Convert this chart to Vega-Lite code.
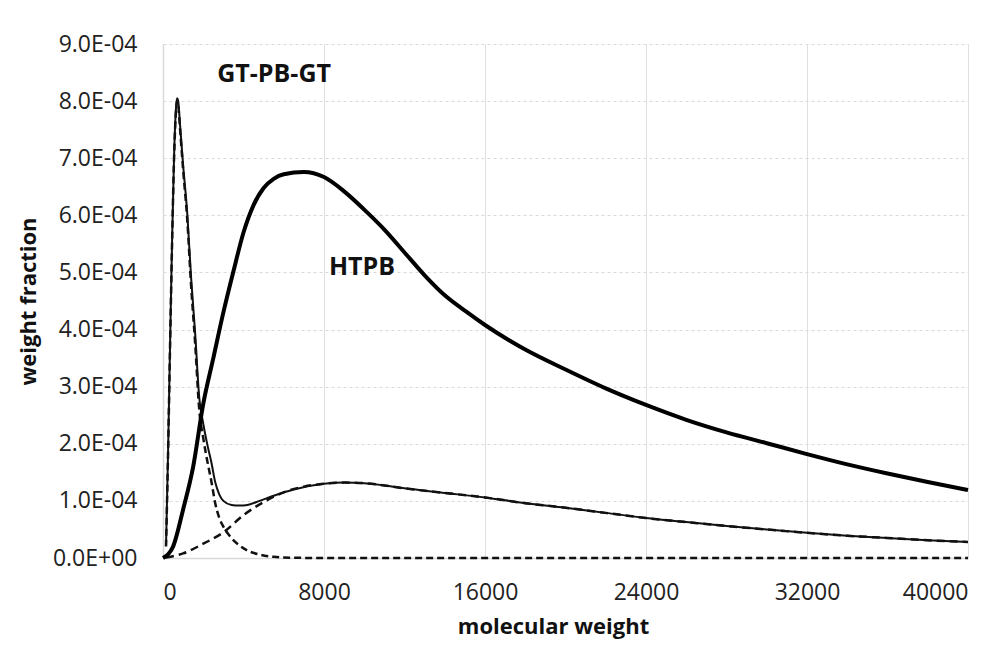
{
  "$schema": "https://vega.github.io/schema/vega-lite/v6.json",
  "autosize": "none",
  "padding": {"left": 163, "top": 44, "right": 37, "bottom": 102},
  "width": 805,
  "height": 514,
  "background": "white",
  "config": {"view": {"stroke": null}, "font": "Open Sans"},
  "datasets": {
    "curves": [
      {"mw": 0, "wf": 0, "series": "HTPB"},
      {"mw": 500, "wf": 0.00002, "series": "HTPB"},
      {"mw": 1000, "wf": 0.000085, "series": "HTPB"},
      {"mw": 1500, "wf": 0.00016, "series": "HTPB"},
      {"mw": 2000, "wf": 0.00027, "series": "HTPB"},
      {"mw": 2500, "wf": 0.00035, "series": "HTPB"},
      {"mw": 3000, "wf": 0.00043, "series": "HTPB"},
      {"mw": 3500, "wf": 0.000502, "series": "HTPB"},
      {"mw": 4000, "wf": 0.00057, "series": "HTPB"},
      {"mw": 4500, "wf": 0.000618, "series": "HTPB"},
      {"mw": 5000, "wf": 0.000648, "series": "HTPB"},
      {"mw": 5500, "wf": 0.000664, "series": "HTPB"},
      {"mw": 6000, "wf": 0.000672, "series": "HTPB"},
      {"mw": 7000, "wf": 0.000676, "series": "HTPB"},
      {"mw": 8000, "wf": 0.000667, "series": "HTPB"},
      {"mw": 9000, "wf": 0.000642, "series": "HTPB"},
      {"mw": 10000, "wf": 0.00061, "series": "HTPB"},
      {"mw": 11000, "wf": 0.000575, "series": "HTPB"},
      {"mw": 12000, "wf": 0.000535, "series": "HTPB"},
      {"mw": 13000, "wf": 0.000495, "series": "HTPB"},
      {"mw": 14000, "wf": 0.00046, "series": "HTPB"},
      {"mw": 15000, "wf": 0.000433, "series": "HTPB"},
      {"mw": 16000, "wf": 0.000408, "series": "HTPB"},
      {"mw": 18000, "wf": 0.000365, "series": "HTPB"},
      {"mw": 20000, "wf": 0.00033, "series": "HTPB"},
      {"mw": 22000, "wf": 0.000297, "series": "HTPB"},
      {"mw": 24000, "wf": 0.000268, "series": "HTPB"},
      {"mw": 26000, "wf": 0.000242, "series": "HTPB"},
      {"mw": 28000, "wf": 0.00022, "series": "HTPB"},
      {"mw": 30000, "wf": 0.000201, "series": "HTPB"},
      {"mw": 32000, "wf": 0.000182, "series": "HTPB"},
      {"mw": 34000, "wf": 0.000164, "series": "HTPB"},
      {"mw": 36000, "wf": 0.000148, "series": "HTPB"},
      {"mw": 38000, "wf": 0.000133, "series": "HTPB"},
      {"mw": 40000, "wf": 0.000119, "series": "HTPB"},

      {"mw": 150, "wf": 0.00002, "series": "comp1"},
      {"mw": 250, "wf": 0.00018, "series": "comp1"},
      {"mw": 350, "wf": 0.00037, "series": "comp1"},
      {"mw": 450, "wf": 0.00055, "series": "comp1"},
      {"mw": 550, "wf": 0.0007, "series": "comp1"},
      {"mw": 650, "wf": 0.000785, "series": "comp1"},
      {"mw": 700, "wf": 0.0008, "series": "comp1"},
      {"mw": 750, "wf": 0.000795, "series": "comp1"},
      {"mw": 850, "wf": 0.00075, "series": "comp1"},
      {"mw": 1000, "wf": 0.00068, "series": "comp1"},
      {"mw": 1200, "wf": 0.000595, "series": "comp1"},
      {"mw": 1400, "wf": 0.000475, "series": "comp1"},
      {"mw": 1600, "wf": 0.000375, "series": "comp1"},
      {"mw": 1800, "wf": 0.00026, "series": "comp1"},
      {"mw": 2000, "wf": 0.00021, "series": "comp1"},
      {"mw": 2200, "wf": 0.00017, "series": "comp1"},
      {"mw": 2400, "wf": 0.000135, "series": "comp1"},
      {"mw": 2600, "wf": 0.000095, "series": "comp1"},
      {"mw": 2800, "wf": 0.00007, "series": "comp1"},
      {"mw": 3000, "wf": 0.000055, "series": "comp1"},
      {"mw": 3400, "wf": 0.000035, "series": "comp1"},
      {"mw": 3800, "wf": 0.000022, "series": "comp1"},
      {"mw": 4200, "wf": 0.000013, "series": "comp1"},
      {"mw": 4800, "wf": 0.000006, "series": "comp1"},
      {"mw": 5500, "wf": 0.000002, "series": "comp1"},
      {"mw": 6500, "wf": 0.0000005, "series": "comp1"},
      {"mw": 8000, "wf": 0, "series": "comp1"},
      {"mw": 40000, "wf": 0, "series": "comp1"},

      {"mw": 150, "wf": 0.000001, "series": "comp2"},
      {"mw": 1000, "wf": 0.000008, "series": "comp2"},
      {"mw": 2000, "wf": 0.000025, "series": "comp2"},
      {"mw": 3000, "wf": 0.000045, "series": "comp2"},
      {"mw": 4000, "wf": 0.000075, "series": "comp2"},
      {"mw": 5000, "wf": 0.000098, "series": "comp2"},
      {"mw": 6000, "wf": 0.000115, "series": "comp2"},
      {"mw": 7000, "wf": 0.000125, "series": "comp2"},
      {"mw": 8000, "wf": 0.00013, "series": "comp2"},
      {"mw": 9000, "wf": 0.000132, "series": "comp2"},
      {"mw": 10000, "wf": 0.000131, "series": "comp2"},
      {"mw": 11000, "wf": 0.000127, "series": "comp2"},
      {"mw": 12000, "wf": 0.000122, "series": "comp2"},
      {"mw": 14000, "wf": 0.000114, "series": "comp2"},
      {"mw": 16000, "wf": 0.000106, "series": "comp2"},
      {"mw": 18000, "wf": 0.000096, "series": "comp2"},
      {"mw": 20000, "wf": 0.000088, "series": "comp2"},
      {"mw": 22000, "wf": 0.000079, "series": "comp2"},
      {"mw": 24000, "wf": 0.00007, "series": "comp2"},
      {"mw": 26000, "wf": 0.000063, "series": "comp2"},
      {"mw": 28000, "wf": 0.000056, "series": "comp2"},
      {"mw": 30000, "wf": 0.00005, "series": "comp2"},
      {"mw": 32000, "wf": 0.000044, "series": "comp2"},
      {"mw": 34000, "wf": 0.000039, "series": "comp2"},
      {"mw": 36000, "wf": 0.000035, "series": "comp2"},
      {"mw": 38000, "wf": 0.000031, "series": "comp2"},
      {"mw": 40000, "wf": 0.000028, "series": "comp2"},

      {"mw": 150, "wf": 0.000021, "series": "sum"},
      {"mw": 250, "wf": 0.000182, "series": "sum"},
      {"mw": 350, "wf": 0.000372, "series": "sum"},
      {"mw": 450, "wf": 0.000553, "series": "sum"},
      {"mw": 550, "wf": 0.000704, "series": "sum"},
      {"mw": 650, "wf": 0.00079, "series": "sum"},
      {"mw": 700, "wf": 0.000805, "series": "sum"},
      {"mw": 750, "wf": 0.000801, "series": "sum"},
      {"mw": 850, "wf": 0.000757, "series": "sum"},
      {"mw": 1000, "wf": 0.000688, "series": "sum"},
      {"mw": 1200, "wf": 0.000606, "series": "sum"},
      {"mw": 1400, "wf": 0.000489, "series": "sum"},
      {"mw": 1600, "wf": 0.000392, "series": "sum"},
      {"mw": 1800, "wf": 0.000281, "series": "sum"},
      {"mw": 2000, "wf": 0.000235, "series": "sum"},
      {"mw": 2200, "wf": 0.000199, "series": "sum"},
      {"mw": 2400, "wf": 0.000168, "series": "sum"},
      {"mw": 2600, "wf": 0.000132, "series": "sum"},
      {"mw": 2800, "wf": 0.000111, "series": "sum"},
      {"mw": 3000, "wf": 0.0001, "series": "sum"},
      {"mw": 3400, "wf": 0.000093, "series": "sum"},
      {"mw": 3800, "wf": 0.000092, "series": "sum"},
      {"mw": 4200, "wf": 0.000093, "series": "sum"},
      {"mw": 4800, "wf": 0.0001, "series": "sum"},
      {"mw": 5500, "wf": 0.000109, "series": "sum"},
      {"mw": 6500, "wf": 0.00012, "series": "sum"},
      {"mw": 8000, "wf": 0.00013, "series": "sum"},
      {"mw": 9000, "wf": 0.000132, "series": "sum"},
      {"mw": 10000, "wf": 0.000131, "series": "sum"},
      {"mw": 11000, "wf": 0.000127, "series": "sum"},
      {"mw": 12000, "wf": 0.000122, "series": "sum"},
      {"mw": 14000, "wf": 0.000114, "series": "sum"},
      {"mw": 16000, "wf": 0.000106, "series": "sum"},
      {"mw": 18000, "wf": 0.000096, "series": "sum"},
      {"mw": 20000, "wf": 0.000088, "series": "sum"},
      {"mw": 22000, "wf": 0.000079, "series": "sum"},
      {"mw": 24000, "wf": 0.00007, "series": "sum"},
      {"mw": 26000, "wf": 0.000063, "series": "sum"},
      {"mw": 28000, "wf": 0.000056, "series": "sum"},
      {"mw": 30000, "wf": 0.00005, "series": "sum"},
      {"mw": 32000, "wf": 0.000044, "series": "sum"},
      {"mw": 34000, "wf": 0.000039, "series": "sum"},
      {"mw": 36000, "wf": 0.000035, "series": "sum"},
      {"mw": 38000, "wf": 0.000031, "series": "sum"},
      {"mw": 40000, "wf": 0.000028, "series": "sum"}
    ],
    "labels": [
      {"mw": 5520, "wf": 0.000848, "label": "GT-PB-GT"},
      {"mw": 9890, "wf": 0.00051, "label": "HTPB"}
    ]
  },
  "encoding": {
    "x": {
      "field": "mw", "type": "quantitative",
      "scale": {"domain": [0, 40000], "nice": false},
      "axis": {
        "title": "molecular weight",
        "values": [0, 8000, 16000, 24000, 32000, 40000],
        "format": "d",
        "ticks": false,
        "domain": true, "domainColor": "#d9d9d9", "domainWidth": 1.5,
        "grid": true, "gridColor": "#e0e0e0", "gridWidth": 1,
        "labelFont": "Open Sans", "labelFontSize": 23, "labelColor": "#222222",
        "labelPadding": 23,
        "titleFont": "Open Sans", "titleFontSize": 22, "titleFontWeight": "bold", "titleColor": "#111111",
        "titleX": 390,
        "titlePadding": 12
      }
    },
    "y": {
      "field": "wf", "type": "quantitative",
      "scale": {"domain": [0, 0.0009], "nice": false},
      "axis": {
        "title": "weight fraction",
        "values": [0, 0.0001, 0.0002, 0.0003, 0.0004, 0.0005, 0.0006, 0.0007, 0.0008, 0.0009],
        "labelExpr": "datum.value == 0 ? '0.0E+00' : format(datum.value * 10000, '.1f') + 'E-04'",
        "ticks": false,
        "domain": true, "domainColor": "#d9d9d9", "domainWidth": 1.5,
        "grid": true, "gridColor": "#d9d9d9", "gridWidth": 1, "gridDash": [3, 3],
        "labelFont": "Open Sans", "labelFontSize": 23, "labelColor": "#222222",
        "labelPadding": 26,
        "titleFont": "Open Sans", "titleFontSize": 22, "titleFontWeight": "bold", "titleColor": "#111111",
        "titlePadding": 12
      }
    }
  },
  "layer": [
    {
      "data": {"name": "curves"},
      "transform": [{"filter": "datum.series == 'comp2'"}],
      "mark": {"type": "line", "color": "#111111", "strokeWidth": 2.5, "strokeDash": [8, 5], "interpolate": "monotone"}
    },
    {
      "data": {"name": "curves"},
      "transform": [{"filter": "datum.series == 'sum'"}],
      "mark": {"type": "line", "color": "#111111", "strokeWidth": 2, "interpolate": "monotone"}
    },
    {
      "data": {"name": "curves"},
      "transform": [{"filter": "datum.series == 'comp1'"}],
      "mark": {"type": "line", "color": "#111111", "strokeWidth": 2.5, "strokeDash": [7, 4], "interpolate": "monotone"}
    },
    {
      "data": {"name": "curves"},
      "transform": [{"filter": "datum.series == 'HTPB'"}],
      "mark": {"type": "line", "color": "#000000", "strokeWidth": 4, "interpolate": "monotone"}
    },
    {
      "data": {"name": "labels"},
      "mark": {"type": "text", "font": "Open Sans", "fontSize": 25, "fontWeight": "bold", "color": "#111111", "align": "center", "baseline": "middle"},
      "encoding": {"text": {"field": "label"}}
    }
  ]
}
